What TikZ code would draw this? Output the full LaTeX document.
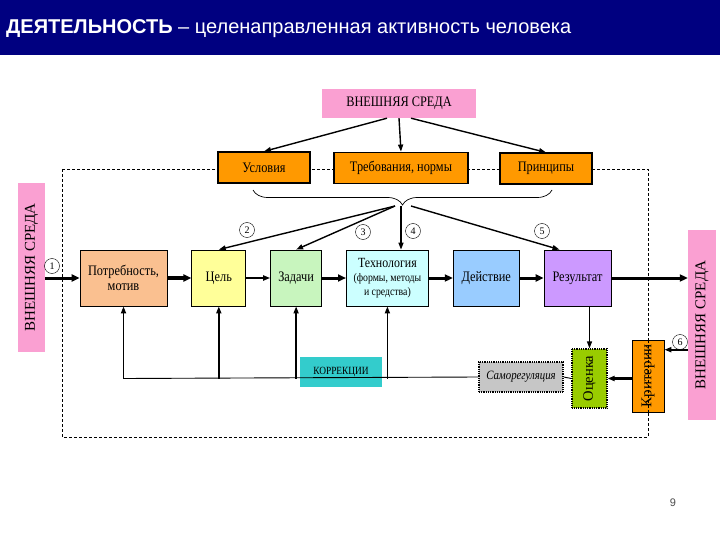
\documentclass[tikz,border=0pt]{standalone}
\usepackage{fontspec}
\setmainfont{Liberation Serif}
\newfontfamily\sansf{Liberation Sans}
\newfontfamily\narrowf[FakeStretch=0.85]{Liberation Serif}
\usetikzlibrary{positioning}
\usetikzlibrary{arrows.meta}
\usetikzlibrary{calc,decorations.pathreplacing}
\definecolor{titleblue}{RGB}{0,0,128}
\definecolor{sredapink}{RGB}{250,160,210}
\definecolor{boxorange}{RGB}{255,153,0}
\definecolor{peach}{RGB}{250,192,144}
\definecolor{lightyellow}{RGB}{255,255,153}
\definecolor{lightgreen}{RGB}{200,245,190}
\definecolor{lightcyan}{RGB}{204,255,255}
\definecolor{skyblue}{RGB}{153,204,255}
\definecolor{lavender}{RGB}{204,153,255}
\definecolor{limegreen}{RGB}{153,204,0}
\definecolor{korrteal}{RGB}{51,204,204}
\tikzset{
node distance = 24pt,
   box/.style = {%
    shape=rectangle,
    draw=black,
    line width=0.8pt,
    inner sep=0pt,
    align=center,
    minimum height=56pt,
    font=\narrowf\fontsize{14.5}{15}\selectfont},
   sreda/.style = {%
    shape=rectangle,
    fill=sredapink,
    inner sep=0pt,
    align=center,
    font=\fontsize{15}{15}\selectfont},
   topbox/.style = {%
    box,
    fill=boxorange,
    line width=1.2pt,
    minimum height=31pt},
   vbox/.style = {%
    box,
    rotate=90,
    font=\fontsize{14.5}{15}\selectfont},
   num/.style = {%
    circle,
    draw,
    thin,
    inner sep=0.5pt,
    minimum size=15pt,
    font=\fontsize{10}{10}\selectfont},
 arrow/.style = {%
    draw=black,
    line width=1.4pt,
    -{Triangle[length=7pt,width=5pt]}},
 fatarrow/.style = {%
    arrow,
    line width=3pt,
    -{Triangle[length=8pt,width=7pt]}},
    }

\begin{document}
\begin{tikzpicture}[x=1pt,y=-1pt]
    \useasboundingbox[fill=white] (0,0) rectangle (720,540);
    % title bar
    \fill[titleblue] (0,0) rectangle (720,55);
    \node[anchor=west, text=white, inner sep=0pt, font=\sansf\fontsize{20}{20}\selectfont] (title) at (6,29)
        {\textbf{ДЕЯТЕЛЬНОСТЬ} – целенаправленная активность человека};
    % frame
    \draw[densely dashed, line width=0.8pt] (62,169) rectangle (648,437);
    % external environment and top boxes
    \node[sreda, font=\narrowf\fontsize{14.5}{15}\selectfont, minimum width=154pt, minimum height=29pt] (sredaT) at (399,103.5) {ВНЕШНЯЯ СРЕДА};
    \node[topbox, minimum width=92pt] (usl) at (264,167.5) {Условия};
    \node[topbox, minimum width=134pt, line width=1.8pt] (treb) at (401,168) {Требования, нормы};
    \node[topbox, minimum width=92pt] (princ) at (546,168.5) {Принципы};
    \coordinate (braceL) at (253,190);
    \coordinate (braceR) at (552,190);
    \draw[decorate, decoration={brace, mirror, amplitude=15pt}, line width=0.7pt] (braceL) -- (braceR);
    \coordinate (tip) at (401,206);
    \node[sreda, rotate=90, minimum width=169pt, minimum height=27pt] (sredaL) at (31.5,267.5) {ВНЕШНЯЯ СРЕДА};
    \node[sreda, rotate=90, minimum width=190pt, minimum height=28pt] (sredaR) at (702,325) {ВНЕШНЯЯ СРЕДА};
    % main chain
    \node[box, fill=peach, minimum width=87pt] (potr) at (123.5,278) {Потребность,\\мотив};
    \node[box, fill=lightyellow, minimum width=54pt, right=of potr] (cel) {Цель};
    \node[box, fill=lightgreen, minimum width=51pt, right=of cel] (zad) {Задачи};
    \node[box, fill=lightcyan, minimum width=82pt, right=of zad, font=\narrowf\fontsize{14}{14}\selectfont] (tech)
        {Технология\\{\fontsize{11.5}{14}\selectfont(формы, методы}\\{\fontsize{11.5}{13}\selectfont и средства)}};
    \node[box, fill=skyblue, minimum width=66pt, right=of tech] (deyst) {Действие};
    \node[box, fill=lavender, minimum width=67pt, right=of deyst] (rez) {Результат};
    % evaluation
    \node[vbox, fill=boxorange, minimum width=72pt, minimum height=32pt, font=\fontsize{15}{15}\selectfont] (krit) at (648,376) {Критерии};
    \node[vbox, fill=limegreen, densely dotted, line width=1.2pt, minimum width=59pt, minimum height=35pt] (ocenka) at (589.5,378.5) {Оценка};
    \node[box, fill=gray!45, densely dotted, line width=1.2pt, minimum width=84pt, minimum height=30pt, font=\narrowf\itshape\fontsize{12.7}{13}\selectfont] (samoreg) at (521,377) {Саморегуляция};
    \node[box, draw=none, fill=korrteal, minimum width=82pt, minimum height=30pt, font=\narrowf\fontsize{11}{11}\selectfont] (korr) at (341,372) {КОРРЕКЦИИ};
    % numbers
    \node[num] (n1) at (52,266) {1};
    \node[num] (n2) at (247,230) {2};
    \node[num] (n3) at (363,232) {3};
    \node[num] (n4) at (413,231) {4};
    \node[num] (n5) at (542,231) {5};
    \node[num] (n6) at (680,342) {6};
    % arrows from the environment
    \draw[arrow] ([xshift=-12pt]sredaT.south) -- (usl.north);
    \draw[arrow] (sredaT.south) -- (treb.north);
    \draw[arrow] ([xshift=12pt]sredaT.south) -- (princ.north);
    \draw[arrow] ([xshift=-6pt]tip) -- (cel.north);
    \draw[arrow] ([xshift=-6pt]tip) -- (zad.north);
    \draw[arrow] (tip) -- (tip |- tech.north);
    \draw[arrow] ([xshift=10pt]tip) -- ([xshift=-18pt]rez.north);
    \draw[fatarrow] (sredaL.south |- potr.west) -- (potr.west);
    % chain
    \draw[fatarrow, line width=4pt] (potr) -- (cel);
    \draw[arrow, line width=2pt] (cel) -- (zad);
    \draw[fatarrow] (zad) -- (tech);
    \draw[fatarrow] (tech) -- (deyst);
    \draw[fatarrow] (deyst) -- (rez);
    \draw[fatarrow] (rez.east) -- (rez.east -| sredaR.north);
    % evaluation and feedback
    \draw[arrow, line width=1.2pt] (ocenka.east |- rez.south) -- (ocenka.east);
    \draw[arrow, line width=2.2pt] (sredaR.north |- n6.south) -- (krit.south |- n6.south);
    \draw[arrow, line width=2.2pt] (krit.north |- ocenka.south) -- (ocenka.south);
    \draw[densely dashed, line width=0.6pt] (krit.east) -- (krit.west);
    \coordinate (fb) at (ocenka.north);
    \draw[line width=0.9pt] (fb) -- (samoreg.east);
    \draw[line width=0.9pt] (samoreg.west) -- (fb -| potr.south);
    \draw[arrow, line width=1.6pt] (fb -| potr.south) -- (potr.south);
    \draw[arrow, line width=1.6pt] (fb -| cel.south) -- (cel.south);
    \draw[arrow, line width=1.6pt] (fb -| zad.south) -- (zad.south);
    \draw[arrow, line width=1.6pt] (fb -| tech.south) -- (tech.south);
    % page number
    \node[font=\sansf\fontsize{11}{11}\selectfont, text=black!70] (page) at (673,503) {9};
\end{tikzpicture}
\end{document}
